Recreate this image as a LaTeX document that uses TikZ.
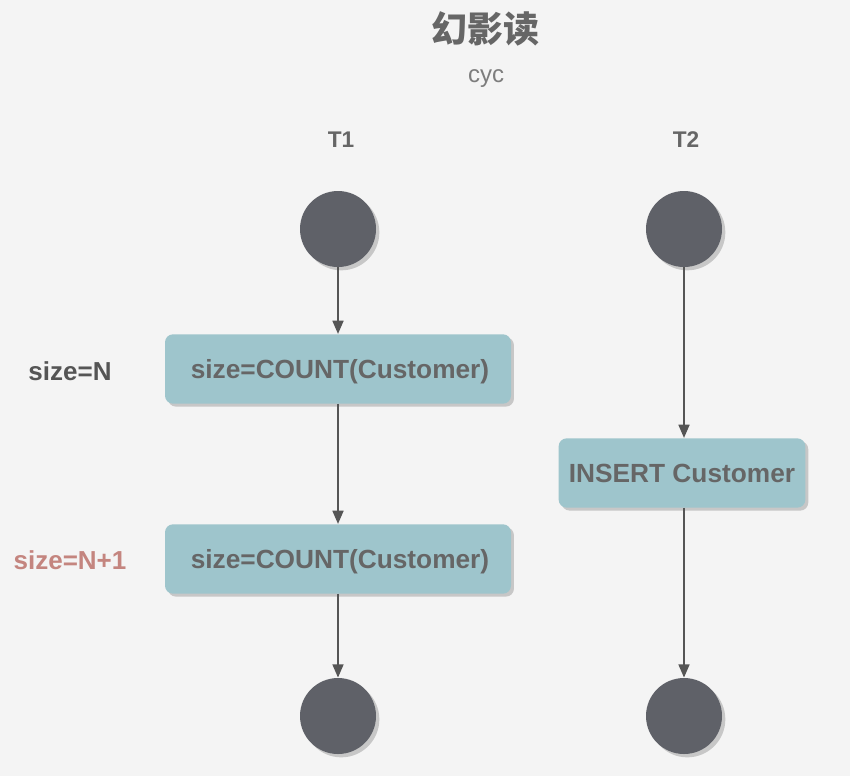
\documentclass[tikz,border=0pt]{standalone}
\usepackage{fontspec}
\setmainfont{Liberation Sans}
\newfontfamily\cjk{Noto Sans CJK SC}
\usetikzlibrary{arrows.meta,shadows}
\definecolor{bgcol}{HTML}{F4F4F4}
\definecolor{txtcol}{HTML}{666666}
\definecolor{boxcol}{HTML}{9EC5CC}
\definecolor{dotcol}{HTML}{5F6168}
\definecolor{linecol}{HTML}{555555}
\definecolor{redcol}{HTML}{C4857F}
\begin{document}
\begin{tikzpicture}[x=0.75pt,y=-0.75pt,
    every node/.style={font=\bfseries, text=txtcol},
    dot/.style={circle, fill=dotcol, minimum size=57pt, inner sep=0pt,
      drop shadow={shadow xshift=2.5pt, shadow yshift=-2.5pt, opacity=1, fill=black!22}},
    act/.style={rectangle, rounded corners=6pt, fill=boxcol, minimum height=52pt,
      font=\fontsize{19.7}{22}\bfseries, text height=14pt, text depth=0pt,
      drop shadow={shadow xshift=2.2pt, shadow yshift=-2.2pt, opacity=1, fill=black!22}},
    lbl/.style={font=\fontsize{19.5}{22}\bfseries},
    flow/.style={-{Triangle[length=10pt,width=8pt]}, line width=1.9pt, draw=linecol}]
  \fill[bgcol] (0,0) rectangle (850,776);
  \node (title) at (485,29) {\fontsize{27}{30}\cjk\bfseries 幻影读};
  \node[font=\fontsize{18}{20}\selectfont, text=txtcol!85] (sub) at (486,79) {cyc};
  \node[font=\fontsize{17}{20}\bfseries] (t1) at (341,140) {T1};
  \node[font=\fontsize{17}{20}\bfseries] (t2) at (686,140) {T2};
  % T1
  \node[dot] (s1) at (338,229) {};
  \node[act, minimum width=259.5pt] (r1) at (338,369) {\hspace{3pt}size=COUNT(Customer)};
  \node[act, minimum width=259.5pt] (r2) at (338,559) {\hspace{3pt}size=COUNT(Customer)};
  \node[dot] (e1) at (338,716) {};
  % T2
  \node[dot] (s2) at (684,229) {};
  \node[act, minimum width=185pt] (ins) at (682,473) {INSERT Customer};
  \node[dot] (e2) at (684,716) {};
  % labels left
  \node[lbl, text=linecol] (n0) at (70,371) {size=N};
  \node[lbl, text=redcol] (n1) at (70,560) {size=N+1};
  \draw[flow] (s1) -- (r1);
  \draw[flow] (r1) -- (r2);
  \draw[flow] (r2) -- (e1);
  \draw[flow] (s2) -- (s2 |- ins.north);
  \draw[flow] (s2 |- ins.south) -- (e2);
\end{tikzpicture}
\end{document}
